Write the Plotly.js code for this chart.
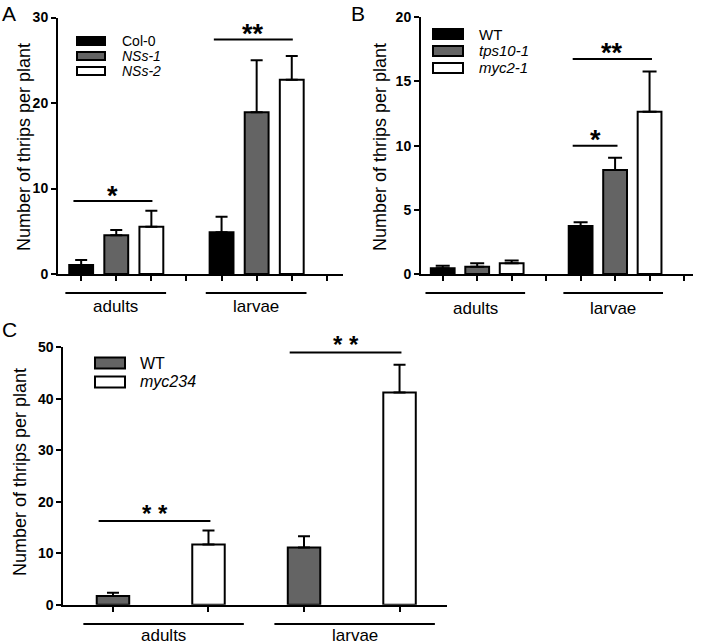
<!DOCTYPE html>
<html><head><meta charset="utf-8">
<script src="https://cdn.plot.ly/plotly-3.0.1.min.js"></script>
<style>html,body{margin:0;padding:0;background:#fff}#chart{width:702px;height:644px}</style>
</head><body><div id="chart"></div>
<script>
// ---------------- DATA ----------------
const groups = ['adults', 'larvae'];

// Panel A
const seriesA = ['Col-0', 'NSs-1', 'NSs-2'];
const meanA_col0 = [1.05, 4.87];
const errA_col0  = [0.60, 1.83];
const meanA_nss1 = [4.52, 18.93];
const errA_nss1  = [0.62, 6.08];
const meanA_nss2 = [5.53, 22.71];
const errA_nss2  = [1.87, 2.80];
const sigA_group = [0, 1];
const sigA_from  = [0, 0];
const sigA_to    = [2, 2];
const sigA_level = [8.53, 27.43];
const sigA_label = ['*', '**'];
const yTicksA = [0, 10, 20, 30];

// Panel B
const seriesB = ['WT', 'tps10-1', 'myc2-1'];
const meanB_wt    = [0.44, 3.74];
const errB_wt     = [0.20, 0.29];
const meanB_tps   = [0.57, 8.10];
const errB_tps    = [0.27, 0.96];
const meanB_myc   = [0.83, 12.65];
const errB_myc    = [0.22, 3.12];
const sigB_group = [1, 1];
const sigB_from  = [0, 0];
const sigB_to    = [1, 2];
const sigB_level = [10.0, 16.75];
const sigB_label = ['*', '**'];
const yTicksB = [0, 5, 10, 15, 20];

// Panel C
const seriesC = ['WT', 'myc234'];
const meanC_wt  = [1.70, 11.10];
const errC_wt   = [0.60, 2.20];
const meanC_myc = [11.70, 41.20];
const errC_myc  = [2.70, 5.40];
const sigC_group = [0, 1];
const sigC_from  = [0, 0];
const sigC_to    = [1, 1];
const sigC_level = [16.25, 49.0];
const sigC_label = ['* *', '* *'];
const yTicksC = [0, 10, 20, 30, 40, 50];

// ---------------- STYLE / LAYOUT ----------------
const W = 702, H = 644;
const FONT = 'Liberation Sans, Arial, Helvetica, sans-serif';
const NARROW = 'Liberation Sans Narrow, Arial Narrow, Liberation Sans, Arial, sans-serif';
const px = x => x / W;
const py = y => 1 - y / H;

const panels = [
  { key: '', series: seriesA, italic: [false, true, true],
    means: [meanA_col0, meanA_nss1, meanA_nss2], errs: [errA_col0, errA_nss1, errA_nss2],
    colors: ['#000000', '#646464', '#ffffff'], slots: 4, barW: 0.68, errW: 6,
    xdom: [58, 343], xrange: [-0.66, 7.46], ydom: [274, 17.5], yrange: [0, 30], yticks: yTicksA,
    sig: { g: sigA_group, f: sigA_from, t: sigA_to, lv: sigA_level, lb: sigA_label }, sigOff: [-0.22, 0.03],
    starSize: 27, starBold: true, starShift: 5,
    under: [-0.45, 0.42], underY: 293, labelY: 307, labelSize: 17,
    title: { x: 24, y: 147, size: 18 }, tickSize: 14, tickFont: FONT,
    legend: { x0: 77, x1: 105, ys: [41, 56, 71], h: 8, tx: 120, size: 14 },
    letter: { t: 'A', x: 0, y: 0 } },
  { key: '2', series: seriesB, italic: [false, true, true],
    means: [meanB_wt, meanB_tps, meanB_myc], errs: [errB_wt, errB_tps, errB_myc],
    colors: ['#000000', '#646464', '#ffffff'], slots: 4, barW: 0.69, errW: 7,
    xdom: [421, 693], xrange: [-0.63, 7.26], ydom: [274, 17.3], yrange: [0, 20], yticks: yTicksB,
    sig: { g: sigB_group, f: sigB_from, t: sigB_to, lv: sigB_level, lb: sigB_label }, sigOff: [-0.23, 0.07],
    starSize: 27, starBold: true, starShift: 6,
    under: [-0.5, 0.39], underY: 293, labelY: 308, labelSize: 17,
    title: { x: 380, y: 147, size: 18 }, tickSize: 14, tickFont: FONT,
    legend: { x0: 433, x1: 463, ys: [34, 51, 68], h: 10, tx: 477, size: 15 },
    letter: { t: 'B', x: 349, y: 0 } },
  { key: '3', series: seriesC, italic: [false, true],
    means: [meanC_wt, meanC_myc], errs: [errC_wt, errC_myc],
    colors: ['#646464', '#ffffff'], slots: 2, barW: 0.34, errW: 6,
    xdom: [63.3, 447.3], xrange: [-0.52, 3.5], ydom: [604.7, 347.3], yrange: [0, 50], yticks: yTicksC,
    sig: { g: sigC_group, f: sigC_from, t: sigC_to, lv: sigC_level, lb: sigC_label }, sigOff: [-0.15, 0.02],
    starSize: 24, starBold: true, starShift: 8,
    under: [-0.31, 0.37], underY: 624, labelY: 635, labelSize: 17,
    title: { x: 20, y: 472, size: 18 }, tickSize: 14, tickFont: NARROW,
    legend: { x0: 95, x1: 125, ys: [363, 382], h: 11, tx: 138, size: 16 },
    letter: { t: 'C', x: 0, y: 316 } }
];

const traces = [];
const shapes = [];
const annotations = [];
const layout = {
  width: W, height: H, margin: { l: 0, r: 0, t: 0, b: 0 },
  paper_bgcolor: '#fff', plot_bgcolor: 'rgba(0,0,0,0)',
  showlegend: false, barmode: 'overlay',
  font: { family: FONT, color: '#000' }
};

panels.forEach(p => {
  const xa = 'x' + p.key, ya = 'y' + p.key;
  const pos = (g, s) => g * p.slots + s;
  const nS = p.series.length;
  // bars
  p.series.forEach((name, s) => {
    traces.push({
      type: 'bar', name: name, xaxis: xa, yaxis: ya,
      x: groups.map((g, gi) => pos(gi, s)), y: p.means[s], width: p.barW,
      marker: { color: p.colors[s], line: { color: '#000', width: 2 } },
      error_y: { type: 'data', symmetric: false, array: p.errs[s], arrayminus: p.errs[s].map(() => 0),
                 color: '#000', thickness: 2, width: p.errW },
      hoverinfo: 'skip'
    });
  });
  // axes
  const tickvals = [];
  for (let i = 0; i < groups.length * p.slots; i++) tickvals.push(i);
  layout['xaxis' + p.key] = {
    domain: [px(p.xdom[0]), px(p.xdom[1])], range: p.xrange, anchor: ya,
    showline: true, linecolor: '#000', linewidth: 2, showgrid: false, zeroline: false,
    tickmode: 'array', tickvals: tickvals, ticks: 'outside', ticklen: 5, tickwidth: 2, tickcolor: '#000',
    showticklabels: false, fixedrange: true
  };
  layout['yaxis' + p.key] = {
    domain: [py(p.ydom[0]), py(p.ydom[1])], range: p.yrange, anchor: xa,
    showline: true, linecolor: '#000', linewidth: 2, showgrid: false, zeroline: false,
    tickmode: 'array', tickvals: p.yticks, ticktext: p.yticks.map(v => '<b>' + v + '</b>'),
    ticks: 'outside', ticklen: 5, tickwidth: 2, tickcolor: '#000',
    tickfont: { family: p.tickFont, size: p.tickSize, color: '#000' }, fixedrange: true
  };
  // significance
  p.sig.g.forEach((g, i) => {
    const x0 = pos(g, p.sig.f[i]) + p.sigOff[0];
    const x1 = pos(g, p.sig.t[i]) + p.sigOff[1];
    shapes.push({ type: 'line', xref: xa, yref: ya, x0: x0, x1: x1, y0: p.sig.lv[i], y1: p.sig.lv[i],
                  line: { color: '#000', width: 2 } });
    annotations.push({ xref: xa, yref: ya, x: (x0 + x1) / 2, y: p.sig.lv[i], yanchor: 'middle', yshift: p.starShift,
                       text: p.starBold ? '<b>' + p.sig.lb[i] + '</b>' : p.sig.lb[i], showarrow: false,
                       font: { family: FONT, size: p.starSize, color: '#000' } });
  });
  // group underlines + labels
  groups.forEach((g, gi) => {
    const x0 = pos(gi, 0) + p.under[0];
    const x1 = pos(gi, nS - 1) + p.under[1];
    shapes.push({ type: 'line', xref: xa, yref: 'paper', x0: x0, x1: x1, y0: py(p.underY), y1: py(p.underY),
                  line: { color: '#000', width: 2 } });
    annotations.push({ xref: xa, yref: 'paper', x: (x0 + x1) / 2, y: py(p.labelY), yanchor: 'middle',
                       text: g, showarrow: false, font: { family: FONT, size: p.labelSize, color: '#000' } });
  });
  // y title
  annotations.push({ xref: 'paper', yref: 'paper', x: px(p.title.x), y: py(p.title.y), xanchor: 'center', yanchor: 'middle',
                     textangle: -90, text: 'Number of thrips per plant', showarrow: false,
                     font: { family: FONT, size: p.title.size, color: '#000' } });
  // legend (manual)
  p.series.forEach((name, s) => {
    const yc = p.legend.ys[s];
    shapes.push({ type: 'rect', xref: 'paper', yref: 'paper',
                  x0: px(p.legend.x0), x1: px(p.legend.x1), y0: py(yc - p.legend.h / 2), y1: py(yc + p.legend.h / 2),
                  fillcolor: p.colors[s], line: { color: '#000', width: 2 } });
    annotations.push({ xref: 'paper', yref: 'paper', x: px(p.legend.tx), y: py(yc), xanchor: 'left', yanchor: 'middle',
                       text: p.italic[s] ? '<i>' + name + '</i>' : name, showarrow: false,
                       font: { family: FONT, size: p.legend.size, color: '#000' } });
  });
  // panel letter
  annotations.push({ xref: 'paper', yref: 'paper', x: px(p.letter.x), y: py(p.letter.y), xanchor: 'left', yanchor: 'top',
                     text: p.letter.t, showarrow: false, font: { family: FONT, size: 21, color: '#000' } });
});

layout.shapes = shapes;
layout.annotations = annotations;
Plotly.newPlot('chart', traces, layout, { staticPlot: true, displayModeBar: false });
</script>
</body></html>
